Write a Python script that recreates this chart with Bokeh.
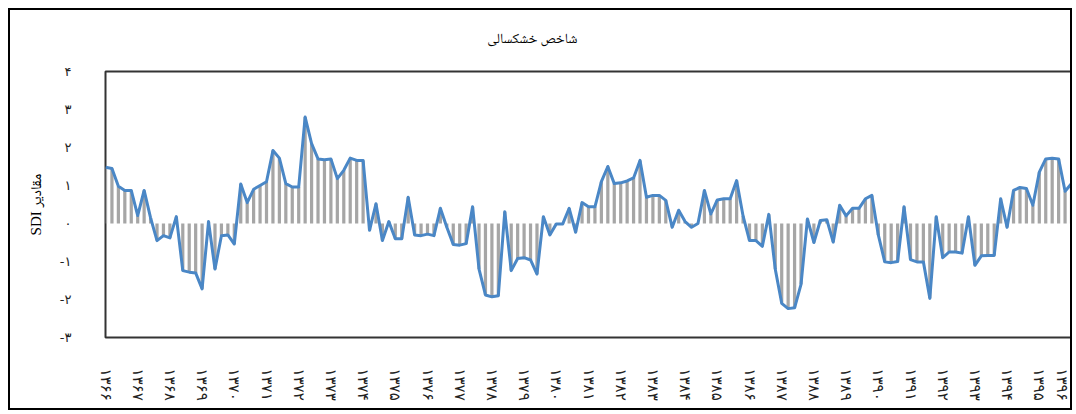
from bokeh.plotting import figure
from bokeh.models import FixedTicker, Range1d, ColumnDataSource
from bokeh.embed import file_html
from bokeh.resources import INLINE

# ---------------- data ----------------
title_text = "شاخص خشکسالی"
y_label = "\u202bمقادیر SDI\u202c"
first_year = 1366
years = list(range(1366, 1397))
steps_per_year = 5
persian = str.maketrans("0123456789", "۰۱۲۳۴۵۶۷۸۹")
year_labels = [str(y).translate(persian) for y in years]
y_ticks = [-3, -2, -1, 0, 1, 2, 3, 4]
y_tick_labels = ["-۳", "-۲", "-۱", "۰", "۱", "۲", "۳", "۴"]

sdi = [
    1.48, 1.45, 0.98, 0.87, 0.87, 0.21, 0.87, 0.15, -0.45, -0.32,
    -0.38, 0.18, -1.24, -1.28, -1.30, -1.72, 0.05, -1.20, -0.32, -0.30,
    -0.54, 1.04, 0.55, 0.90, 1.00, 1.10, 1.92, 1.72, 1.05, 0.96,
    0.96, 2.80, 2.10, 1.70, 1.68, 1.70, 1.18, 1.40, 1.72, 1.66,
    1.66, -0.18, 0.52, -0.45, 0.05, -0.40, -0.40, 0.69, -0.30, -0.32,
    -0.28, -0.32, 0.40, -0.10, -0.55, -0.57, -0.53, 0.44, -1.20, -1.88,
    -1.93, -1.90, 0.31, -1.24, -0.92, -0.90, -0.96, -1.33, 0.18, -0.30,
    -0.01, -0.01, 0.40, -0.23, 0.55, 0.44, 0.44, 1.10, 1.50, 1.05,
    1.07, 1.12, 1.20, 1.66, 0.69, 0.74, 0.74, 0.61, -0.10, 0.35,
    0.05, -0.10, 0.00, 0.87, 0.25, 0.62, 0.65, 0.65, 1.13, 0.20,
    -0.45, -0.45, -0.60, 0.24, -1.20, -2.10, -2.24, -2.22, -1.60, 0.12,
    -0.50, 0.08, 0.10, -0.49, 0.48, 0.20, 0.40, 0.40, 0.65, 0.74,
    -0.30, -1.01, -1.03, -1.00, 0.44, -0.95, -1.01, -1.01, -1.97, 0.18,
    -0.90, -0.75, -0.75, -0.78, 0.18, -1.10, -0.85, -0.84, -0.84, 0.65,
    -0.10, 0.87, 0.95, 0.92, 0.48, 1.35, 1.70, 1.72, 1.70, 0.85,
    1.05,
]

t = [first_year + i / steps_per_year for i in range(len(sdi))]
src = ColumnDataSource(data=dict(t=t, sdi=sdi))

NASKH = "Noto Naskh Arabic, Noto Sans Arabic, DejaVu Sans"

# ---------------- figure ----------------
p = figure(width=1064, height=402, output_backend="svg", toolbar_location=None,
           x_range=Range1d(years[0], years[-1]), y_range=Range1d(-3, 4),
           min_border_left=95, min_border_right=3, min_border_top=61,
           min_border_bottom=75)
p.styles = {"border": "2px solid #000000", "margin": "8px 0 0 8px"}

p.title.text = title_text
p.title.align = "right"
p.title.offset = 494
p.title.vertical_align = "top"
p.title.standoff = 35
p.title.text_font = NASKH
p.title.text_font_size = "14px"
p.title.text_font_style = "normal"
p.title.text_color = "#000000"

p.outline_line_color = "#333333"
p.outline_line_width = 2
p.xgrid.grid_line_color = None
p.ygrid.grid_line_color = None

p.vbar(x="t", top="sdi", bottom=0, width=0.1, source=src,
       fill_color="#A6A6A6", line_color=None)
p.line(x="t", y="sdi", source=src, line_color="#4A87C6", line_width=3,
       line_join="round")

# axes
xa = p.xaxis[0]
xa.ticker = FixedTicker(ticks=years)
xa.major_label_overrides = {y: lab for y, lab in zip(years, year_labels)}
xa.major_label_orientation = "vertical"
xa.major_label_standoff = 25
xa.major_label_text_font = "DejaVu Sans"
xa.major_label_text_font_size = "15px"
xa.major_label_text_color = "#222222"
xa.axis_line_color = None
xa.major_tick_line_color = None
xa.minor_tick_line_color = None

ya = p.yaxis[0]
ya.ticker = FixedTicker(ticks=y_ticks)
ya.major_label_overrides = {v: lab for v, lab in zip(y_ticks, y_tick_labels)}
ya.major_label_standoff = 28
ya.major_label_text_font = "DejaVu Sans"
ya.major_label_text_font_size = "13px"
ya.major_label_text_color = "#222222"
ya.axis_line_color = None
ya.major_tick_line_color = None
ya.minor_tick_line_color = None
ya.axis_label = y_label
ya.axis_label_text_font = "Liberation Serif, Noto Naskh Arabic, DejaVu Sans"
ya.axis_label_text_font_size = "15px"
ya.axis_label_text_font_style = "normal"
ya.axis_label_text_color = "#000000"
ya.axis_label_standoff = 13

open("out.html", "w").write(file_html(p, INLINE))
